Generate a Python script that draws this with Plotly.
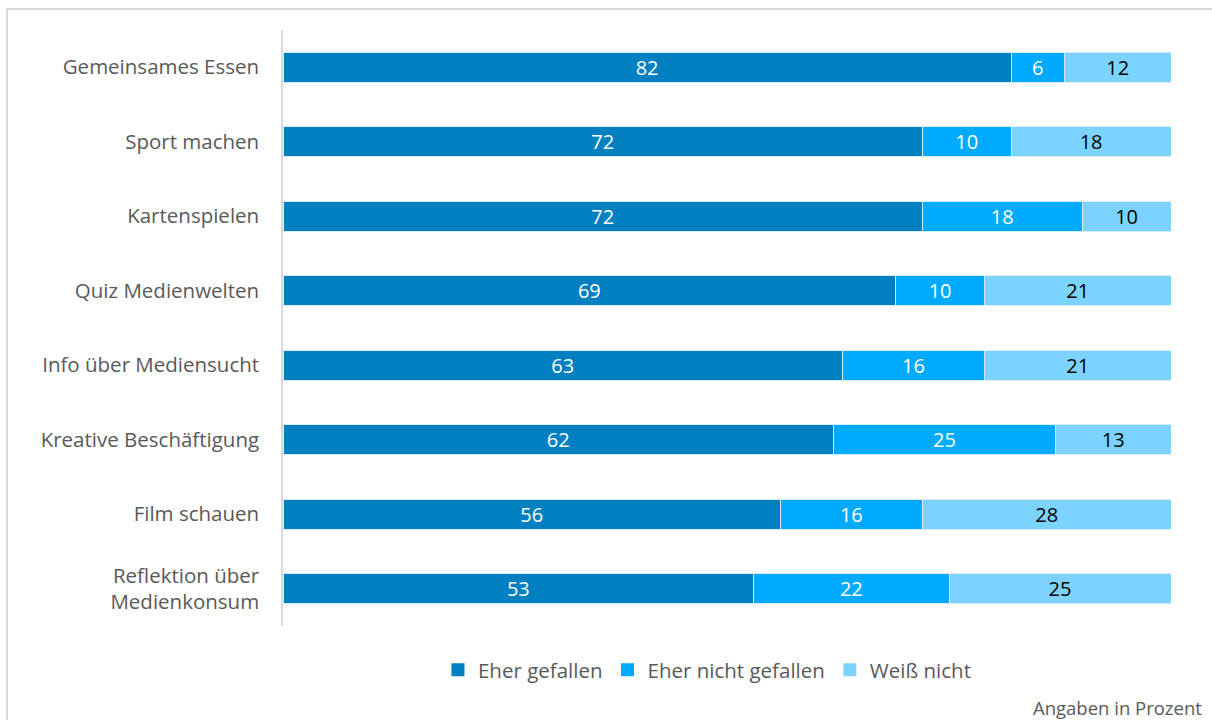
import plotly.graph_objects as go

categories = [
    "Gemeinsames Essen",
    "Sport machen",
    "Kartenspielen",
    "Quiz Medienwelten",
    "Info über Mediensucht",
    "Kreative Beschäftigung",
    "Film schauen",
    "Reflektion über<br>Medienkonsum",
]
eher_gefallen = [82, 72, 72, 69, 63, 62, 56, 53]
eher_nicht_gefallen = [6, 10, 18, 10, 16, 25, 16, 22]
weiss_nicht = [12, 18, 10, 21, 21, 13, 28, 25]

series = [
    ("Eher gefallen", eher_gefallen, "#0080C0", "white"),
    ("Eher nicht gefallen", eher_nicht_gefallen, "#00AAFF", "white"),
    ("Weiß nicht", weiss_nicht, "#7DD3FF", "black"),
]

FONT = "Open Sans"

fig = go.Figure()
for name, vals, color, txtcolor in series:
    fig.add_trace(go.Bar(
        y=categories,
        x=vals,
        name=name,
        orientation="h",
        marker=dict(color=color, line=dict(color="#D6EEFA", width=1)),
        text=vals,
        texttemplate="%{x}",
        textposition="inside",
        insidetextanchor="middle",
        textangle=0,
        constraintext="none",
        textfont=dict(family=FONT, size=20, color=txtcolor),
        hoverinfo="skip",
        showlegend=False,
    ))

# Legend entries with larger square swatches
for name, _, color, _ in series:
    fig.add_trace(go.Scatter(
        x=[None], y=[None],
        mode="markers",
        name=name,
        marker=dict(symbol="square", size=13, color=color),
        hoverinfo="skip",
    ))

fig.update_layout(
    barmode="stack",
    bargap=0.6,
    width=1212,
    height=720,
    margin=dict(l=283, r=41, t=30, b=94),
    paper_bgcolor="white",
    plot_bgcolor="white",
    font=dict(family=FONT, color="#595959"),
    showlegend=True,
    legend=dict(
        orientation="h",
        x=0.478,
        xanchor="center",
        y=-0.04,
        yanchor="top",
        font=dict(family=FONT, size=20.5, color="#595959"),
        itemwidth=30,
        traceorder="normal",
    ),
    xaxis=dict(range=[0, 100], visible=False, fixedrange=True),
    yaxis=dict(
        autorange="reversed",
        showline=True,
        linecolor="#D9D9D9",
        linewidth=1.5,
        showgrid=False,
        ticks="",
        ticklabelstandoff=18,
        tickfont=dict(family=FONT, size=20.5, color="#595959"),
    ),
)

# Outer frame of the chart area (left and top edges)
fig.add_shape(type="line", xref="paper", yref="paper",
              x0=-283 / 888 + 7 / 888, x1=-283 / 888 + 7 / 888,
              y0=-94 / 596 - 0.01, y1=1 + 21 / 596,
              line=dict(color="#D9D9D9", width=2))
fig.add_shape(type="line", xref="paper", yref="paper",
              x0=-283 / 888 + 7 / 888, x1=1 + 41 / 888 + 0.01,
              y0=1 + 21 / 596, y1=1 + 21 / 596,
              line=dict(color="#D9D9D9", width=2))

fig.add_annotation(
    text="Angaben in Prozent",
    xref="paper", yref="paper",
    x=1 + 33 / 888, y=-81 / 596,
    xanchor="right", yanchor="middle",
    showarrow=False,
    font=dict(family=FONT, size=18.5, color="#595959"),
)

fig.write_html("out.html")
